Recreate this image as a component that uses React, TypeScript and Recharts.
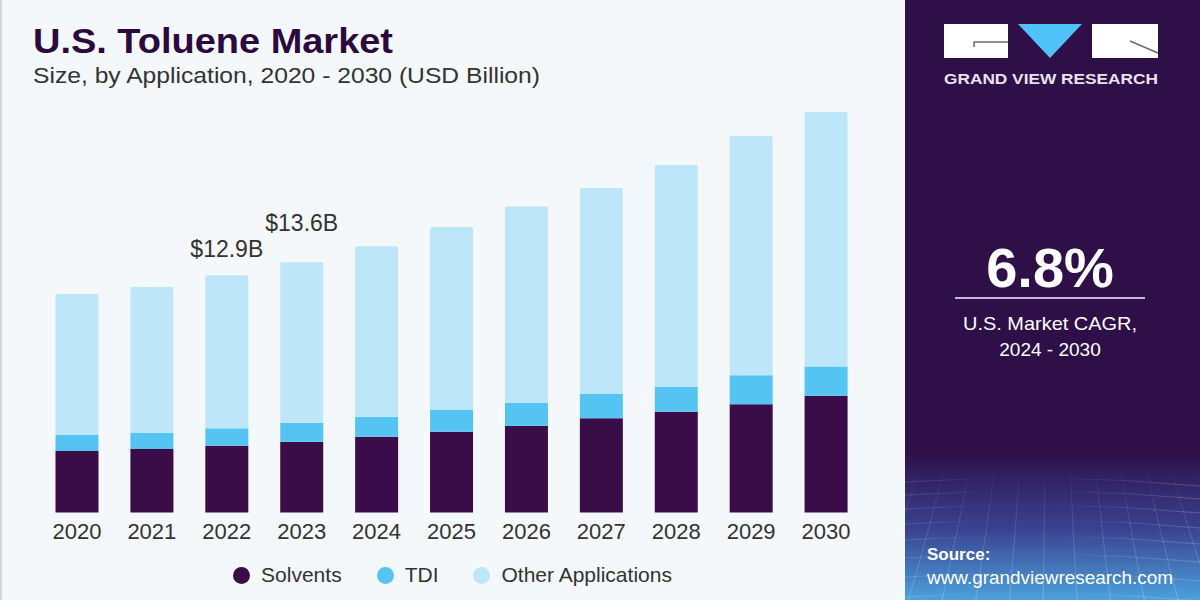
import { BarChart, Bar, XAxis, YAxis, Legend, LabelList } from "recharts"

const years = ["2020", "2021", "2022", "2023", "2024", "2025", "2026", "2027", "2028", "2029", "2030"]
const solvents = [3.34, 3.45, 3.63, 3.85, 4.12, 4.39, 4.72, 5.12, 5.48, 5.88, 6.35]
const tdi = [0.87, 0.89, 0.95, 1.03, 1.09, 1.18, 1.25, 1.32, 1.36, 1.58, 1.58]
const otherApps = [7.67, 7.92, 8.32, 8.72, 9.26, 9.95, 10.67, 11.2, 12.05, 13.0, 13.84]
const callouts = ["", "", "$12.9B", "$13.6B", "", "", "", "", "", "", ""]
const seriesNames = ["Solvents", "TDI", "Other Applications"]

const data = years.map((year, i) => ({
  year,
  solvents: solvents[i],
  tdi: tdi[i],
  other: otherApps[i],
}))

const FONT = "'Liberation Sans', Arial, sans-serif"
const COLORS = { solvents: "#3a0d48", tdi: "#56c4f2", other: "#bde7f8" }

function YearTick({ x, y, payload }: any) {
  return (
    <text x={x} y={y + 26} textAnchor="middle" fontSize={22} fill="#333" fontFamily={FONT}>
      {payload.value}
    </text>
  )
}

function Callout({ x, y, width, index }: any) {
  const label = callouts[index]
  if (!label) return null
  const lift = index === 3 ? 31 : 18
  return (
    <text x={x + width / 2} y={y - lift} textAnchor="middle" fontSize={23} fill="#333" fontFamily={FONT}>
      {label}
    </text>
  )
}

function LegendRow({ payload }: any) {
  const items = [...(payload || [])].sort(
    (a: any, b: any) => seriesNames.indexOf(a.value) - seriesNames.indexOf(b.value)
  )
  return (
    <div style={{ display: "flex", justifyContent: "center", gap: 35, fontFamily: FONT, fontSize: 21, color: "#333" }}>
      {items.map((item: any) => (
        <div key={item.value} style={{ display: "flex", alignItems: "center", gap: 11 }}>
          <span style={{ width: 17, height: 17, borderRadius: "50%", background: item.color, display: "inline-block" }} />
          <span>{item.value}</span>
        </div>
      ))}
    </div>
  )
}

function Backdrop() {
  const gridX = [920, 945, 970, 995, 1020, 1045, 1070, 1095, 1120, 1145, 1170, 1195]
  const gridY = [482, 495, 509, 524, 540, 558, 577, 597]
  return (
    <svg width={1200} height={600} style={{ position: "absolute", left: 0, top: 0 }}>
      <defs>
        <linearGradient id="panel" x1="0" y1="0" x2="0" y2="1">
          <stop offset="0" stopColor="#2e0f48" />
          <stop offset="0.75" stopColor="#2e0f48" />
          <stop offset="0.88" stopColor="#3a4190" />
          <stop offset="1" stopColor="#4ba1dc" />
        </linearGradient>
        <linearGradient id="gridFade" x1="0" y1="0" x2="0" y2="1">
          <stop offset="0" stopColor="#ffffff" stopOpacity={0} />
          <stop offset="0.4" stopColor="#ffffff" stopOpacity={0.12} />
          <stop offset="1" stopColor="#ffffff" stopOpacity={0.2} />
        </linearGradient>
        <clipPath id="panelClip">
          <rect x={905} y={465} width={295} height={135} />
        </clipPath>
      </defs>
      <rect x={0} y={0} width={905} height={600} fill="#f4f8fb" />
      <rect x={0} y={0} width={2} height={600} fill="#d4d6da" />
      <rect x={905} y={0} width={295} height={600} fill="url(#panel)" />
      <g clipPath="url(#panelClip)" stroke="url(#gridFade)" strokeWidth={1} fill="none">
        {gridX.map((gx, i) => (
          <path key={"v" + i} d={`M${gx} 465 Q${gx + (gx - 1050) * 0.15} 530 ${gx + (gx - 1050) * 0.35} 600`} />
        ))}
        {gridY.map((gy, i) => (
          <path key={"h" + i} d={`M905 ${gy} Q1050 ${gy - 10} 1200 ${gy + 4}`} />
        ))}
      </g>

      <text x={33} y={53} fontSize={35} fontWeight={700} fill="#2b0a3e" fontFamily={FONT} textLength={360} lengthAdjust="spacingAndGlyphs">
        U.S. Toluene Market
      </text>
      <text x={33} y={83} fontSize={22} fill="#333" fontFamily={FONT} textLength={507} lengthAdjust="spacingAndGlyphs">
        Size, by Application, 2020 - 2030 (USD Billion)
      </text>

      <rect x={944} y={24} width={64} height={34} fill="#ffffff" />
      <path d="M974 47 L974 42 L1008 42" stroke="#6b6b6b" strokeWidth={1.5} fill="none" />
      <polygon points="1018,24 1082,24 1050,58" fill="#4fc3f7" />
      <rect x={1092} y={24} width={66} height={34} fill="#ffffff" />
      <path d="M1130 41 L1158 53" stroke="#6b6b6b" strokeWidth={1.5} fill="none" />
      <text x={944} y={84} fontSize={14} fontWeight={700} fill="#e9e3f0" fontFamily={FONT} textLength={214} lengthAdjust="spacingAndGlyphs">
        GRAND VIEW RESEARCH
      </text>

      <text x={1050} y={287} textAnchor="middle" fontSize={56} fontWeight={700} fill="#ffffff" fontFamily={FONT}>
        6.8%
      </text>
      <line x1={955} x2={1145} y1={298} y2={298} stroke="#c7b5df" strokeWidth={2} />
      <text x={1050} y={330} textAnchor="middle" fontSize={19} fill="#ffffff" fontFamily={FONT} textLength={174} lengthAdjust="spacingAndGlyphs">
        U.S. Market CAGR,
      </text>
      <text x={1050} y={356} textAnchor="middle" fontSize={19} fill="#ffffff" fontFamily={FONT}>
        2024 - 2030
      </text>

      <text x={927} y={560} fontSize={17} fontWeight={700} fill="#ffffff" fontFamily={FONT}>
        Source:
      </text>
      <text x={927} y={584} fontSize={18} fill="#ffffff" fontFamily={FONT} textLength={246} lengthAdjust="spacingAndGlyphs">
        www.grandviewresearch.com
      </text>
    </svg>
  )
}

export default function App() {
  return (
    <div style={{ position: "fixed", left: 0, top: 0, width: 1200, height: 600, overflow: "hidden" }}>
      <Backdrop />
      <div style={{ position: "absolute", left: 0, top: 0 }}>
        <BarChart
          width={905}
          height={600}
          data={data}
          margin={{ top: 71, right: 41.5, bottom: 57.5, left: 39.5 }}
          barSize={43}
        >
          <YAxis hide domain={[0, 24]} />
          <XAxis
            dataKey="year"
            axisLine={false}
            tickLine={false}
            tickSize={0}
            tickMargin={0}
            height={30}
            interval={0}
            tick={<YearTick />}
          />
          <Legend
            layout="horizontal"
            verticalAlign="middle"
            align="center"
            wrapperStyle={{ top: 563, left: 0, width: 905 }}
            content={<LegendRow />}
          />
          <Bar dataKey="solvents" name="Solvents" stackId="a" fill={COLORS.solvents} isAnimationActive={false} />
          <Bar dataKey="tdi" name="TDI" stackId="a" fill={COLORS.tdi} isAnimationActive={false} />
          <Bar dataKey="other" name="Other Applications" stackId="a" fill={COLORS.other} radius={[2, 2, 0, 0]} isAnimationActive={false}>
            <LabelList dataKey="other" content={<Callout />} />
          </Bar>
        </BarChart>
      </div>
    </div>
  )
}
